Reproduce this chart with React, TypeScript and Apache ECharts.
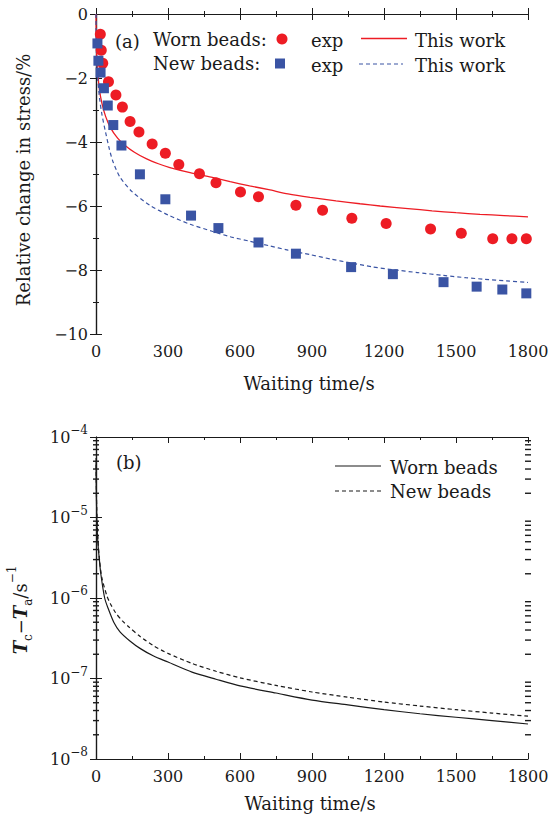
import React, { useEffect, useRef } from "react";
import * as echarts from "echarts";

// ---- Panel (a): relative change in stress (%) vs waiting time (s)
const wornExpX = [18, 22, 28, 52, 83, 110, 142, 179, 234, 289, 345, 431, 500, 602, 677, 833, 944, 1066, 1209, 1394, 1522, 1653, 1733, 1793];
const wornExpY = [-0.63, -1.13, -1.54, -2.12, -2.53, -2.91, -3.36, -3.69, -4.06, -4.35, -4.7, -4.99, -5.27, -5.56, -5.71, -5.98, -6.13, -6.38, -6.55, -6.72, -6.85, -7.02, -7.02, -7.02];
const newExpX = [6, 10, 19, 33, 49, 72, 106, 183, 289, 396, 510, 677, 833, 1063, 1237, 1448, 1586, 1693, 1793];
const newExpY = [-0.92, -1.46, -1.83, -2.32, -2.86, -3.47, -4.11, -5.01, -5.79, -6.3, -6.69, -7.14, -7.49, -7.91, -8.13, -8.38, -8.52, -8.61, -8.73];
const wornFitX = [0, 1, 3, 8, 15, 25, 40, 60, 90, 120, 160, 211, 260, 308, 392, 480, 559, 640, 720, 800, 892, 1000, 1100, 1184, 1300, 1400, 1500, 1600, 1700, 1800];
const wornFitY = [0, -0.7, -1.3, -1.9, -2.4, -2.8, -3.2, -3.55, -3.88, -4.1, -4.32, -4.53, -4.68, -4.8, -4.96, -5.1, -5.24, -5.37, -5.49, -5.62, -5.73, -5.84, -5.93, -6.0, -6.08, -6.15, -6.21, -6.26, -6.3, -6.34];
const newFitX = [0, 1, 3, 8, 15, 25, 40, 55, 70, 100, 150, 225, 300, 392, 480, 559, 640, 720, 800, 892, 980, 1063, 1150, 1237, 1340, 1448, 1540, 1620, 1710, 1800];
const newFitY = [0, -0.9, -1.5, -2.1, -2.65, -3.15, -3.7, -4.2, -4.6, -5.1, -5.55, -5.98, -6.28, -6.57, -6.78, -6.96, -7.1, -7.24, -7.38, -7.52, -7.66, -7.78, -7.9, -7.99, -8.08, -8.17, -8.24, -8.29, -8.34, -8.39];

// ---- Panel (b): Tc - Ta (s^-1) vs waiting time (s), log scale
const wornRateX = [0.3, 1, 3, 5.6, 10, 14, 20, 36, 50, 74, 100, 140, 185, 240, 300, 400, 500, 600, 750, 900, 1050, 1200, 1350, 1500, 1650, 1800];
const wornRateY = [5e-5, 2.5e-5, 1.1e-5, 6.4e-6, 4e-6, 3.0e-6, 2e-6, 1.0e-6, 7.5e-7, 5e-7, 3.8e-7, 2.95e-7, 2.35e-7, 1.9e-7, 1.6e-7, 1.2e-7, 9.8e-8, 8.1e-8, 6.6e-8, 5.4e-8, 4.7e-8, 4.1e-8, 3.65e-8, 3.3e-8, 3.0e-8, 2.72e-8];
const newRateX = [0.3, 1, 3, 8, 15, 25, 46, 60, 81, 110, 136, 185, 240, 300, 400, 500, 600, 750, 900, 1050, 1200, 1350, 1500, 1650, 1800];
const newRateY = [5.5e-5, 3e-5, 1.3e-5, 5.5e-6, 2.9e-6, 1.75e-6, 1.05e-6, 8.5e-7, 6.6e-7, 5.2e-7, 4.4e-7, 3.3e-7, 2.55e-7, 2.05e-7, 1.54e-7, 1.23e-7, 1.02e-7, 8.2e-8, 6.8e-8, 5.85e-8, 5.1e-8, 4.55e-8, 4.1e-8, 3.72e-8, 3.4e-8];

// axis ticks
const timeTicks = { min: 0, max: 1800, interval: 300 };
const stressTicks = { min: -10, max: 0, interval: 2 };
const logMin = 1e-8;
const logMax = 1e-4;
const logMantissas = [2, 3, 4, 5, 6, 7, 8, 9];
const logDecades = [-8, -7, -6, -5];

const FONT = "DejaVu Serif";
const INK = "#1a1a1a";
const RED = "#ED1C24";
const BLUE = "#3A54A4";

const zip = (xs: number[], ys: number[]) => xs.map((x, i) => [x, ys[i]]);

function linAxis(extra: any) {
  return {
    type: "value",
    axisLine: { show: true, lineStyle: { color: INK, width: 1.2 } },
    axisTick: { show: true, inside: true, length: 6, lineStyle: { color: INK, width: 1 } },
    minorTick: { show: true, splitNumber: 2, length: 3, lineStyle: { color: INK, width: 1 } },
    splitLine: { show: false },
    minorSplitLine: { show: false },
    ...extra,
  };
}

export default function App() {
  const ref = useRef<HTMLDivElement>(null);

  useEffect(() => {
    if (!ref.current) return;
    const chart = echarts.init(ref.current, undefined, { renderer: "svg" });

    const minorLogVals: number[] = [];
    logDecades.forEach((d) => logMantissas.forEach((m) => minorLogVals.push(m * Math.pow(10, d))));

    const tickLabel = { fontFamily: FONT, fontSize: 16, color: INK };
    const plain = (v: number) => String(v);
    const minus = (v: number) => (v === 0 ? "0" : "\u2212" + Math.abs(v));
    const supFmt = (v: number) => {
      const e = Math.round(Math.log10(v));
      return "{b|10}{s|" + (e < 0 ? "\u2212" + Math.abs(e) : String(e)) + "}";
    };

    const txt = (text: string, x: number, y: number, extra: any = {}) => ({
      type: "text",
      x,
      y,
      style: { text, fontFamily: FONT, fontSize: 18, fill: INK, verticalAlign: "middle", align: "left", ...extra },
    });

    const logAxis = (position: string, showLabel: boolean) => ({
      type: "log",
      logBase: 10,
      gridIndex: 1,
      position,
      min: logMin,
      max: logMax,
      axisLine: { show: true, lineStyle: { color: INK, width: 1.2 } },
      axisTick: { show: true, inside: true, length: 6, lineStyle: { color: INK, width: 1 } },
      splitLine: { show: false },
      axisLabel: showLabel
        ? {
            ...tickLabel,
            margin: 8,
            formatter: supFmt,
            rich: {
              b: { fontFamily: FONT, fontSize: 16, color: INK, lineHeight: 26, verticalAlign: "middle" },
              s: { fontFamily: FONT, fontSize: 12, color: INK, lineHeight: 26, verticalAlign: "top" },
            },
          }
        : { show: false },
    });

    const minorTickSeries = (name: string, xVal: number) => ({
      name,
      type: "scatter",
      xAxisIndex: 2,
      yAxisIndex: 2,
      clip: false,
      symbol: "rect",
      symbolSize: [6, 1.4],
      itemStyle: { color: INK, opacity: 1 },
      data: minorLogVals.map((v) => [xVal, v]),
      z: 10,
    });

    const option: any = {
      animation: false,
      grid: [
        { left: 96, top: 14, width: 432, height: 320 },
        { left: 96, top: 437, width: 432, height: 322 },
      ],
      xAxis: [
        linAxis({ gridIndex: 0, position: "bottom", ...timeTicks, axisLabel: { ...tickLabel, margin: 9, formatter: plain } }),
        linAxis({ gridIndex: 0, position: "top", ...timeTicks, axisLabel: { show: false } }),
        linAxis({ gridIndex: 1, position: "bottom", ...timeTicks, axisLabel: { ...tickLabel, margin: 9, formatter: plain } }),
        linAxis({ gridIndex: 1, position: "top", ...timeTicks, axisLabel: { show: false } }),
      ],
      yAxis: [
        linAxis({ gridIndex: 0, position: "left", ...stressTicks, axisLabel: { ...tickLabel, margin: 8, formatter: minus } }),
        linAxis({ gridIndex: 0, position: "right", ...stressTicks, axisLabel: { show: false } }),
        logAxis("left", true),
        logAxis("right", false),
      ],
      series: [
        {
          name: "Worn beads: This work",
          type: "line",
          xAxisIndex: 0,
          yAxisIndex: 0,
          data: zip(wornFitX, wornFitY),
          symbol: "none",
          smooth: 0.25,
          lineStyle: { color: RED, width: 1.3 },
          z: 2,
        },
        {
          name: "New beads: This work",
          type: "line",
          xAxisIndex: 0,
          yAxisIndex: 0,
          data: zip(newFitX, newFitY),
          symbol: "none",
          smooth: 0.25,
          lineStyle: { color: BLUE, width: 1.2, type: [4, 3] },
          z: 2,
        },
        {
          name: "Worn beads: exp",
          type: "scatter",
          xAxisIndex: 0,
          yAxisIndex: 0,
          data: zip(wornExpX, wornExpY),
          symbol: "circle",
          symbolSize: 11,
          itemStyle: { color: RED, opacity: 1 },
          z: 3,
        },
        {
          name: "New beads: exp",
          type: "scatter",
          xAxisIndex: 0,
          yAxisIndex: 0,
          data: zip(newExpX, newExpY),
          symbol: "rect",
          symbolSize: 10,
          itemStyle: { color: BLUE, opacity: 1 },
          z: 3,
        },
        {
          name: "Worn beads",
          type: "line",
          xAxisIndex: 2,
          yAxisIndex: 2,
          data: zip(wornRateX, wornRateY),
          symbol: "none",
          smooth: 0.25,
          lineStyle: { color: INK, width: 1.2 },
        },
        {
          name: "New beads",
          type: "line",
          xAxisIndex: 2,
          yAxisIndex: 2,
          data: zip(newRateX, newRateY),
          symbol: "none",
          smooth: 0.25,
          lineStyle: { color: INK, width: 1.2, type: [4, 3] },
        },
        minorTickSeries("minor ticks left", timeTicks.min),
        minorTickSeries("minor ticks right", timeTicks.max),
      ],
      graphic: [
        // panel (a) legend
        txt("(a)", 115, 41),
        txt("Worn beads:", 153, 39),
        { type: "circle", shape: { cx: 282, cy: 39, r: 5.5 }, style: { fill: RED } },
        txt("exp", 311, 40),
        { type: "line", shape: { x1: 361, y1: 38.5, x2: 407, y2: 38.5 }, style: { stroke: RED, lineWidth: 1.3 } },
        txt("This work", 415, 40),
        txt("New beads:", 153, 63),
        { type: "rect", shape: { x: 275, y: 58.5, width: 10, height: 10 }, style: { fill: BLUE } },
        txt("exp", 311, 65),
        { type: "line", shape: { x1: 359, y1: 64, x2: 403, y2: 64 }, style: { stroke: BLUE, lineWidth: 1.2, lineDash: [4, 3] } },
        txt("This work", 415, 65),
        // panel (b) legend
        txt("(b)", 116, 462),
        { type: "line", shape: { x1: 335, y1: 466, x2: 381, y2: 466 }, style: { stroke: INK, lineWidth: 1.2 } },
        txt("Worn beads", 390, 467),
        { type: "line", shape: { x1: 335, y1: 491, x2: 381, y2: 491 }, style: { stroke: INK, lineWidth: 1.2, lineDash: [4, 3] } },
        txt("New beads", 390, 491),
        // axis titles
        txt("Waiting time/s", 309, 383, { align: "center" }),
        txt("Waiting time/s", 310, 803, { align: "center" }),
        {
          type: "text",
          x: 23,
          y: 180,
          rotation: Math.PI / 2,
          style: { text: "Relative change in stress/%", fontFamily: FONT, fontSize: 18, fill: INK, align: "center", verticalAlign: "middle" },
        },
        {
          type: "text",
          x: 20,
          y: 610,
          rotation: Math.PI / 2,
          style: {
            text: "{it|T}{sub|c}{n|\u2212}{it|T}{sub|a}{n|/s}{sup|\u22121}",
            align: "center",
            verticalAlign: "middle",
            rich: {
              it: { fontFamily: FONT, fontSize: 18, fontStyle: "italic", fontWeight: "bold", fill: INK, lineHeight: 28, verticalAlign: "middle" },
              n: { fontFamily: FONT, fontSize: 18, fill: INK, lineHeight: 28, verticalAlign: "middle" },
              sub: { fontFamily: FONT, fontSize: 12, fill: INK, lineHeight: 28, verticalAlign: "bottom" },
              sup: { fontFamily: FONT, fontSize: 12, fill: INK, lineHeight: 28, verticalAlign: "top" },
            },
          },
        },
      ],
    };

    chart.setOption(option);
    return () => chart.dispose();
  }, []);

  return <div ref={ref} style={{ position: "absolute", left: 0, top: 0, width: 560, height: 814, background: "#fff" }} />;
}
